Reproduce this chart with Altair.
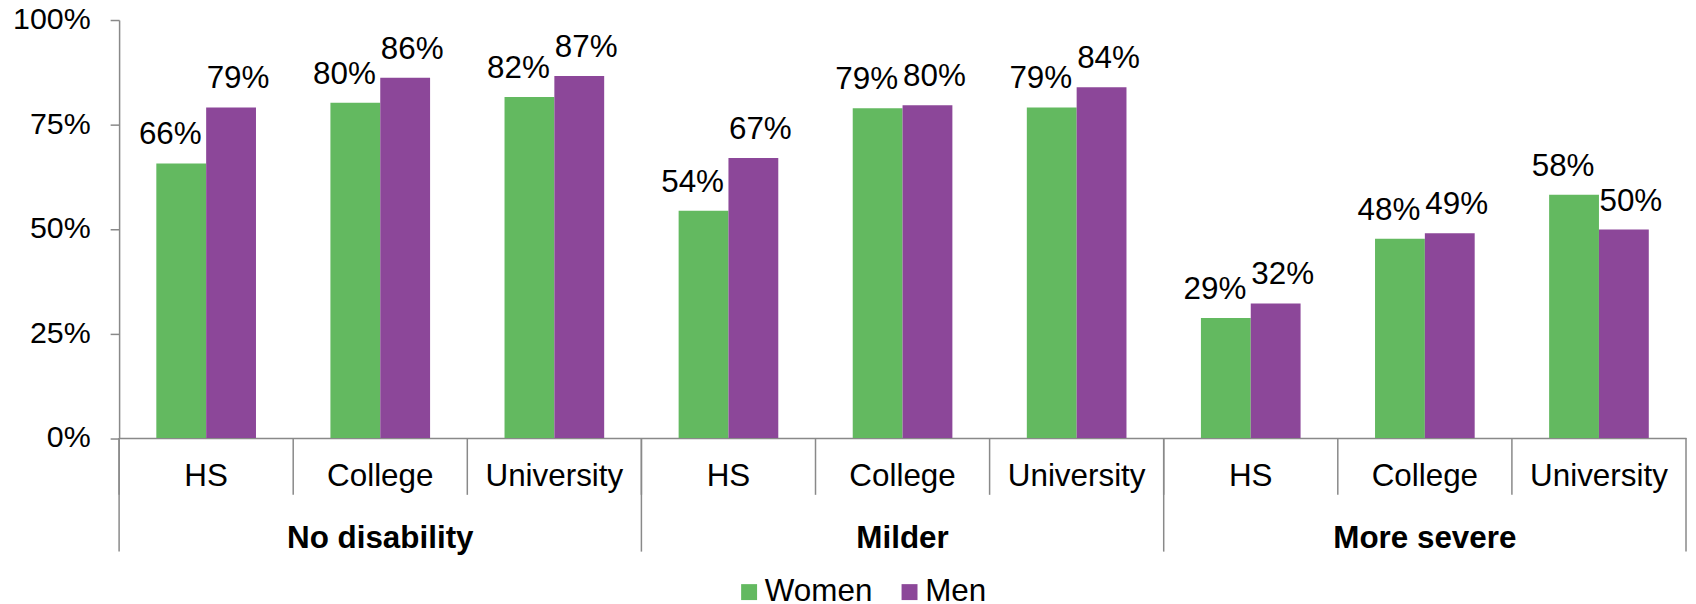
import altair as alt
import pandas as pd

groups = ["No disability", "Milder", "More severe"]
education = ["HS", "College", "University"]
series = ["Women", "Men"]
women = [65.7, 80.2, 81.6, 54.4, 78.9, 79.1, 28.7, 47.7, 58.2]
men = [79.1, 86.2, 86.6, 67.0, 79.6, 83.9, 32.2, 49.0, 49.9]
y_ticks = [0, 0.25, 0.5, 0.75, 1.0]

keys = [f"{g}|{e}" for g in groups for e in education]
rows = []
for i, k in enumerate(keys):
    rows.append({"key": k, "sex": series[0], "value": women[i] / 100})
    rows.append({"key": k, "sex": series[1], "value": men[i] / 100})
df = pd.DataFrame(rows)
cat_df = pd.DataFrame({"key": keys, "edu": [k.split("|")[1] for k in keys]})
grp_df = pd.DataFrame({"key": [f"{g}|{education[1]}" for g in groups], "group": groups})
grp_start = pd.DataFrame({"key": [f"{g}|{education[0]}" for g in groups]})
last_df = pd.DataFrame({"key": [keys[-1]]})

W, H = 1572.5, 419.5
FONT = "Liberation Sans"
FS = 31.5
GRAY = "#898989"
GREEN = "#63B960"
PURPLE = "#8C4799"

xscale = alt.Scale(domain=keys, paddingInner=0, paddingOuter=0)
x_axis = alt.Axis(labels=False, ticks=False, title=None, domainColor=GRAY, domainWidth=1.5, grid=False)
yscale = alt.Scale(domain=[0, 1])
y_axis = alt.Axis(values=y_ticks, format=".0%", title=None, grid=False, tickSize=9,
                  tickColor=GRAY, tickWidth=1.5, domainColor=GRAY, domainWidth=1.5,
                  labelFont=FONT, labelFontSize=30.5, labelColor="black", labelPadding=20)
xoff = alt.XOffset("sex:N", scale=alt.Scale(domain=series, paddingOuter=0.747, paddingInner=0))

bars = alt.Chart(df).mark_bar().encode(
    x=alt.X("key:N", scale=xscale, axis=x_axis),
    xOffset=xoff,
    y=alt.Y("value:Q", scale=yscale, axis=y_axis),
    color=alt.Color("sex:N", scale=alt.Scale(domain=series, range=[GREEN, PURPLE]),
                    legend=alt.Legend(orient="none", legendX=616.5, legendY=558, direction="horizontal",
                                      title=None, symbolType="square", symbolSize=256, symbolStrokeWidth=0,
                                      labelFontSize=FS, labelFont=FONT, labelOffset=0, columnPadding=21,
                                      padding=0, labelColor="black")),
)


def label_layer(s, dx):
    return alt.Chart(df).transform_filter(alt.datum.sex == s).mark_text(
        font=FONT, fontSize=FS, baseline="alphabetic", dy=-19, dx=dx, color="black"
    ).encode(
        x=alt.X("key:N", scale=xscale, axis=x_axis),
        xOffset=xoff,
        y=alt.Y("value:Q", scale=yscale, axis=y_axis),
        text=alt.Text("value:Q", format=".0%"),
    )


short_rules = alt.Chart(cat_df).mark_rule(color=GRAY, strokeWidth=1.5).encode(
    x=alt.X("key:N", scale=xscale, axis=x_axis, bandPosition=0),
    y=alt.value(H), y2=alt.value(H + 57))
long_rules = alt.Chart(grp_start).mark_rule(color=GRAY, strokeWidth=1.5).encode(
    x=alt.X("key:N", scale=xscale, axis=x_axis, bandPosition=0),
    y=alt.value(H), y2=alt.value(H + 114))
end_rule = alt.Chart(last_df).mark_rule(color=GRAY, strokeWidth=1.5).encode(
    x=alt.X("key:N", scale=xscale, axis=x_axis, bandPosition=1),
    y=alt.value(H), y2=alt.value(H + 114))

edu_text = alt.Chart(cat_df).mark_text(font=FONT, fontSize=FS, baseline="alphabetic", color="black").encode(
    x=alt.X("key:N", scale=xscale, axis=x_axis), y=alt.value(H + 48.5), text="edu:N")
grp_text = alt.Chart(grp_df).mark_text(font=FONT, fontSize=FS, fontWeight="bold", baseline="alphabetic",
                                       color="black").encode(
    x=alt.X("key:N", scale=xscale, axis=x_axis), y=alt.value(H + 110.5), text="group:N")

chart = alt.layer(
    bars, label_layer(series[0], -11), label_layer(series[1], 7),
    short_rules, long_rules, end_rule, edu_text, grp_text
).properties(
    width=W, height=H,
    autosize=alt.AutoSizeParams(type="none"),
    padding={"left": 111.5, "top": 11, "right": 2, "bottom": 165.5},
).configure_view(stroke=None)

chart.save("out.html", embed_options={"renderer": "svg", "actions": False})
